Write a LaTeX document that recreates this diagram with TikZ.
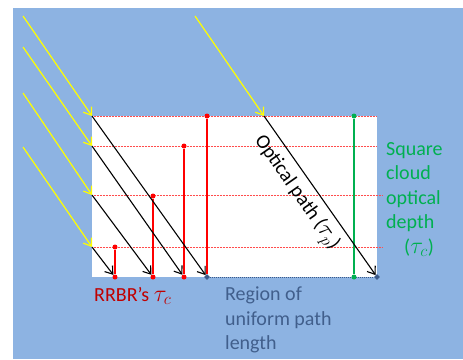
\documentclass[tikz,border=0pt]{standalone}
\usepackage{fontspec}
\setmainfont{Carlito}
\usetikzlibrary{arrows.meta,shapes.geometric}
\definecolor{sky}{RGB}{141,179,226}
\definecolor{sun}{RGB}{255,255,0}
\definecolor{rbr}{RGB}{255,0,0}
\definecolor{rbrtext}{RGB}{192,0,0}
\definecolor{cloudgreen}{RGB}{0,176,80}
\definecolor{regionblue}{RGB}{65,95,140}
\definecolor{marker}{RGB}{59,90,138}
\newcommand{\bigmath}[1]{\scalebox{1.15}{$#1$}}
\tikzset{
  x=1pt, y=-1pt,
  ray/.style={sun, line width=1.2pt, -{Straight Barb[length=7pt,width=10pt,line width=1.2pt]}},
  path/.style={black, line width=1.1pt, -{Straight Barb[length=7pt,width=10pt,line width=1.1pt]}},
  level/.style={rbr!70, line width=0.5pt, densely dotted},
  depth/.style={rbr, line width=1.4pt},
  reddot/.style={circle, fill=rbr, inner sep=0pt, minimum size=5pt},
  greendot/.style={circle, fill=cloudgreen, inner sep=0pt, minimum size=5pt},
  bluedia/.style={diamond, fill=marker, inner sep=0pt, minimum size=6pt},
  lbl/.style={font=\fontsize{20}{24.5}\selectfont, align=left, inner sep=0pt},
}
\begin{document}
\begin{tikzpicture}
\useasboundingbox (0,0) rectangle (463,359);
% sky and cloud
\fill[sky] (13,8) rectangle (463,359);
\fill[white] (92,116) rectangle (377,277);

% optical depth levels inside the cloud
\coordinate (L1a) at (92,116); \coordinate (L1b) at (377,116);
\coordinate (L2a) at (92,146); \coordinate (L2b) at (377,146);
\coordinate (L3a) at (92,195); \coordinate (L3b) at (382,195);
\coordinate (L4a) at (92,247); \coordinate (L4b) at (382,247);
\draw[level] (L1a) -- (L1b);
\draw[level] (L2a) -- (L2b);
\draw[level] (L3a) -- (L3b);
\draw[level] (L4a) -- (L4b);

% base of the cloud: region of uniform path length
\node[bluedia] (B0) at (207,277) {};
\node[bluedia] (B1) at (377,277) {};
\draw[marker, line width=1pt, densely dotted] (B0) -- (B1);

% RRBR depths
\node[reddot] (T1) at (115,247) {};
\node[reddot] (T2) at (153,196) {};
\node[reddot] (T3) at (184,146) {};
\node[reddot] (T4) at (207,116) {};
\node[reddot] (D1) at (115,277) {};
\node[reddot] (D2) at (153,277) {};
\node[reddot] (D3) at (184,277) {};
\draw[depth] (T1) -- (D1);
\draw[depth] (T2) -- (D2);
\draw[depth] (T3) -- (D3);
\draw[depth] (T4) -- (B0);

% square cloud optical depth
\node[greendot] (G1) at (354,116) {};
\node[greendot] (G2) at (354,277) {};
\draw[cloudgreen, line width=1.4pt] (G1) -- (G2);

% incoming sunlight
\coordinate (S1) at (23,16);
\coordinate (S2) at (23,47);
\coordinate (S3) at (23,93);
\coordinate (S4) at (23,147);
\coordinate (S5) at (195,16);
\coordinate (E5) at (264,116);
\draw[ray] (S1) -- (L1a);
\draw[ray] (S2) -- (L2a);
\draw[ray] (S3) -- (L3a);
\draw[ray] (S4) -- (L4a);
\draw[ray] (S5) -- (E5);

% slant paths through the cloud
\draw[path] (L1a) -- (B0);
\draw[path] (L2a) -- (D3);
\draw[path] (L3a) -- (D2);
\draw[path] (L4a) -- (D1);
\draw[path] (E5) -- (B1);

% labels
\node[lbl, rotate=-55] (op) at (296,193) {Optical path (\bigmath{\tau_p})};
\node[lbl, text=rbrtext, anchor=west] (rr) at (94,296) {RRBR’s \bigmath{\tau_c}};
\node[lbl, text=regionblue, anchor=north west] (rg) at (225,287) {Region of\\uniform path\\length};
\node[lbl, text=cloudgreen, anchor=north west] (sq) at (386,142) {Square\\cloud\\optical\\depth\\\hspace{0.9em}(\bigmath{\tau_c})};
\end{tikzpicture}
\end{document}
